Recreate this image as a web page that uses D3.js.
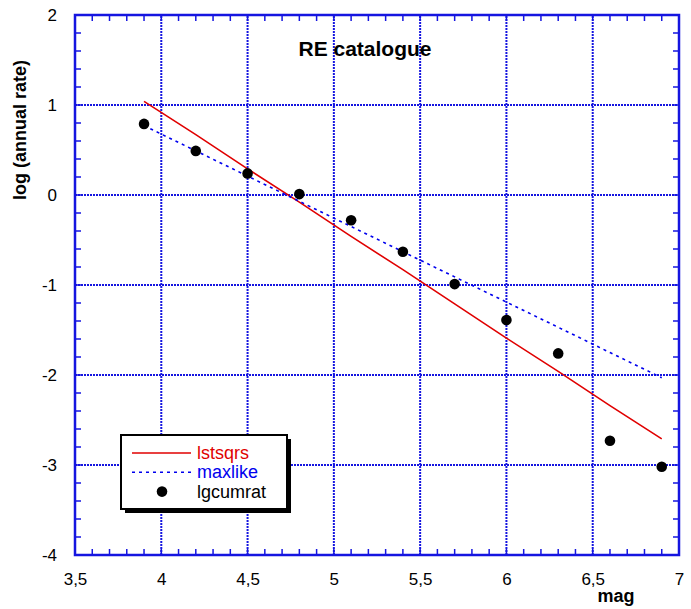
<!DOCTYPE html>
<html>
<head>
<meta charset="utf-8">
<script src="https://cdn.jsdelivr.net/npm/d3@7"></script>
<style>
  html, body { margin: 0; padding: 0; background: #fff; }
  svg { display: block; font-family: Arial, "Liberation Sans", sans-serif; }
</style>
</head>
<body>
<svg id="chart" width="691" height="609"></svg>
<script>
// Magnitude thresholds and log cumulative annual rates
const mags = [3.9, 4.2, 4.5, 4.8, 5.1, 5.4, 5.7, 6.0, 6.3, 6.6, 6.9];
const lgcumrat = [0.79, 0.49, 0.24, 0.01, -0.28, -0.63, -0.99, -1.39, -1.76, -2.73, -3.02];
// Fitted Gutenberg-Richter lines
const lstsqrs = [1.04, 0.67, 0.29, -0.08, -0.46, -0.83, -1.21, -1.59, -1.96, -2.34, -2.71];
const maxlike = [0.77, 0.49, 0.21, -0.07, -0.35, -0.63, -0.91, -1.19, -1.47, -1.75, -2.03];

const xTicks = [3.5, 4, 4.5, 5, 5.5, 6, 6.5, 7];
const yTicks = [-4, -3, -2, -1, 0, 1, 2];
const xMinor = d3.range(35, 71).map(v => v / 10);
const yMinor = d3.range(-20, 11).map(v => v / 5);

const legendItems = [
  { label: "lstsqrs", color: "#e00000", kind: "solid" },
  { label: "maxlike", color: "#0000ee", kind: "dotted" },
  { label: "lgcumrat", color: "#000", kind: "dot" }
];

const margin = { left: 75, top: 15, right: 12, bottom: 54 };
const W = 691, H = 609;
const svg = d3.select("#chart");

const x = d3.scaleLinear().domain([3.5, 7]).range([margin.left, W - margin.right]);
const y = d3.scaleLinear().domain([-4, 2]).range([H - margin.bottom, margin.top]);

const blue = "#1515e0";
const fmt = d => String(d).replace(".", ",");

// grid
const grid = svg.append("g");
grid.selectAll("line.gx").data(xTicks.slice(1, -1)).join("line")
  .attr("x1", d => x(d)).attr("x2", d => x(d))
  .attr("y1", y(-4)).attr("y2", y(2))
  .attr("stroke", blue).attr("stroke-width", 2).attr("stroke-dasharray", "2,1");
grid.selectAll("line.gy").data(yTicks.slice(1, -1)).join("line")
  .attr("y1", d => y(d)).attr("y2", d => y(d))
  .attr("x1", x(3.5)).attr("x2", x(7))
  .attr("stroke", blue).attr("stroke-width", 2).attr("stroke-dasharray", "2,1");

// minor ticks on all four sides, pointing inward
const tk = 6;
const ticks = svg.append("g").attr("stroke", blue).attr("stroke-width", 1.5);
xMinor.forEach(v => {
  ticks.append("line").attr("x1", x(v)).attr("x2", x(v)).attr("y1", y(-4)).attr("y2", y(-4) - tk);
  ticks.append("line").attr("x1", x(v)).attr("x2", x(v)).attr("y1", y(2)).attr("y2", y(2) + tk);
});
yMinor.forEach(v => {
  ticks.append("line").attr("y1", y(v)).attr("y2", y(v)).attr("x1", x(3.5)).attr("x2", x(3.5) + tk);
  ticks.append("line").attr("y1", y(v)).attr("y2", y(v)).attr("x1", x(7)).attr("x2", x(7) - tk);
});

// frame
svg.append("rect")
  .attr("x", x(3.5)).attr("y", y(2))
  .attr("width", x(7) - x(3.5)).attr("height", y(-4) - y(2))
  .attr("fill", "none").attr("stroke", blue).attr("stroke-width", 2.5);

// axis labels via d3 axes (tick lines hidden)
const xAxis = svg.append("g").attr("transform", `translate(0,${y(-4)})`)
  .call(d3.axisBottom(x).tickValues(xTicks).tickFormat(fmt).tickSize(0).tickPadding(18));
const yAxis = svg.append("g").attr("transform", `translate(${x(3.5)},0)`)
  .call(d3.axisLeft(y).tickValues(yTicks).tickFormat(d => String(d)).tickSize(0).tickPadding(18));
[xAxis, yAxis].forEach(a => {
  a.select(".domain").remove();
  a.selectAll("text").attr("font-size", 17).attr("fill", "#000")
    .attr("font-family", "Arial, 'Liberation Sans', sans-serif");
});

// lines
const line = vals => d3.line().x((d, i) => x(mags[i])).y(d => y(d))(vals);
svg.append("path").attr("d", line(lstsqrs))
  .attr("fill", "none").attr("stroke", "#e00000").attr("stroke-width", 1.6);
svg.append("path").attr("d", line(maxlike))
  .attr("fill", "none").attr("stroke", "#0000ee").attr("stroke-width", 1.6)
  .attr("stroke-dasharray", "3,4");

// points
svg.append("g").selectAll("circle").data(lgcumrat).join("circle")
  .attr("cx", (d, i) => x(mags[i])).attr("cy", d => y(d)).attr("r", 5.3).attr("fill", "#000");

// title and axis titles
svg.append("text").attr("x", 365).attr("y", 56).attr("text-anchor", "middle")
  .attr("font-weight", "bold").attr("font-size", 21).text("RE catalogue");
svg.append("text").attr("x", 616).attr("y", 602).attr("text-anchor", "middle")
  .attr("font-weight", "bold").attr("font-size", 18).text("mag");
svg.append("text").attr("transform", "translate(26,130) rotate(-90)").attr("text-anchor", "middle")
  .attr("font-weight", "bold").attr("font-size", 18).text("log (annual rate)");

// legend
const lg = svg.append("g");
const lx = 121, ly = 435, lw = 166, lh = 74;
lg.append("rect").attr("x", lx + 4).attr("y", ly + 4).attr("width", lw).attr("height", lh).attr("fill", "#000");
lg.append("rect").attr("x", lx).attr("y", ly).attr("width", lw).attr("height", lh)
  .attr("fill", "#fff").attr("stroke", "#000").attr("stroke-width", 2);
legendItems.forEach((it, i) => {
  const cy = 453 + i * 19.3;
  if (it.kind === "dot") {
    lg.append("circle").attr("cx", 162).attr("cy", cy).attr("r", 5.3).attr("fill", "#000");
  } else {
    lg.append("line").attr("x1", 132).attr("x2", 191).attr("y1", cy).attr("y2", cy)
      .attr("stroke", it.color).attr("stroke-width", 1.6)
      .attr("stroke-dasharray", it.kind === "dotted" ? "3,4" : null);
  }
  lg.append("text").attr("x", 197).attr("y", cy + 6).attr("font-size", 18)
    .attr("fill", it.kind === "dot" ? "#000" : it.color).text(it.label);
});
</script>
</body>
</html>
